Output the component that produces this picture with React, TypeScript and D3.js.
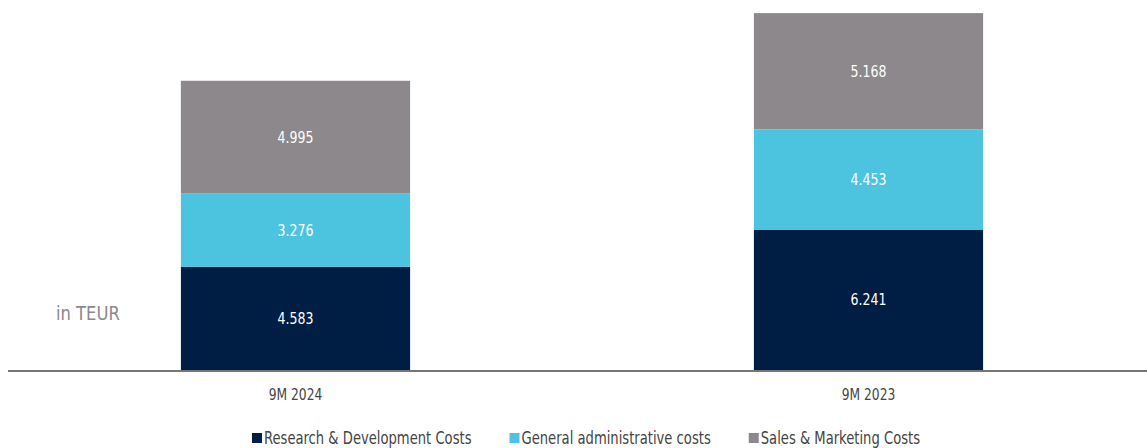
import React, { useEffect, useRef } from "react";
import * as d3 from "d3";

const categories = ["9M 2024", "9M 2023"];
const seriesNames = ["Research & Development Costs", "General administrative costs", "Sales & Marketing Costs"];
const rdCosts = [4583, 6241];
const gaCosts = [3276, 4453];
const smCosts = [4995, 5168];
const colors = ["#001e44", "#4dc4df", "#8d888b"];
const unitLabel = "in TEUR";

const W = 1147;
const H = 448;
const FONT = "'DejaVu Sans Condensed', 'Liberation Sans Narrow', sans-serif";
const SX = 0.86;

function fmt(v: number) {
  return d3.format(",")(v).replace(",", ".");
}

export default function App() {
  const ref = useRef<SVGSVGElement>(null);
  useEffect(() => {
    const svg = d3.select(ref.current);
    svg.selectAll("*").remove();
    const x = d3.scaleBand<string>().domain(categories).range([9, 1155]).paddingInner(0.6).paddingOuter(0.3);
    const y = d3.scaleLinear().domain([0, 16000]).range([370, 10]);
    const rows = categories.map((c, i) => ({ cat: c, rd: rdCosts[i], ga: gaCosts[i], sm: smCosts[i] }));
    const stack = d3.stack<any>().keys(["rd", "ga", "sm"]);
    const series = stack(rows);
    series.forEach((s, si) => {
      const g = svg.append("g");
      g.selectAll("rect").data(s).enter().append("rect")
        .attr("x", (d: any) => x(d.data.cat)!)
        .attr("width", x.bandwidth())
        .attr("y", (d: any) => y(d[1]))
        .attr("height", (d: any) => y(d[0]) - y(d[1]))
        .attr("fill", colors[si]);
      g.selectAll("text").data(s).enter().append("text")
        .attr("transform", (d: any) => `translate(${x(d.data.cat)! + x.bandwidth() / 2},${(y(d[0]) + y(d[1])) / 2}) scale(0.87,1)`)
        .attr("dy", "0.35em")
        .attr("text-anchor", "middle")
        .attr("fill", "#ffffff")
        .attr("font-family", FONT)
        .attr("font-size", 16)
        .text((d: any) => fmt(d[1] - d[0]));
    });
    // axis line
    svg.append("line").attr("x1", 8).attr("x2", W).attr("y1", y(0) + 1).attr("y2", y(0) + 1)
      .attr("stroke", "#767676").attr("stroke-width", 2);
    // category labels
    svg.selectAll("text.cat").data(categories).enter().append("text")
      .attr("class", "cat")
      .attr("transform", (d) => `translate(${x(d)! + x.bandwidth() / 2},395) scale(0.91,1)`)
      .attr("dy", "0.35em")
      .attr("text-anchor", "middle")
      .attr("fill", "#444")
      .attr("font-family", FONT)
      .attr("font-size", 15)
      .text((d) => d);
    svg.append("text").attr("transform", "translate(56,313) scale(0.91,1)").attr("dy", "0.35em")
      .attr("fill", "#8a8a8a").attr("font-family", FONT).attr("font-size", 20).text(unitLabel);
    // legend
    const lg = svg.append("g");
    let cx = 0;
    const gap = 38;
    seriesNames.forEach((n, i) => {
      const it = lg.append("g").attr("transform", `translate(${cx},0)`);
      it.append("rect").attr("x", 0).attr("y", -5).attr("width", 10).attr("height", 10).attr("fill", colors[i]);
      const t = it.append("text").attr("transform", `translate(12,0) scale(${SX},1)`).attr("dy", "0.35em")
        .attr("fill", "#444").attr("font-family", FONT).attr("font-size", 17).text(n);
      const w = (t.node() as SVGTextElement).getComputedTextLength() * SX;
      cx += 12 + w + gap;
    });
    const total = cx - gap;
    lg.attr("transform", `translate(${586 - total / 2},438)`);
  }, []);
  return <svg ref={ref} width={W} height={H} style={{ display: "block", position: "absolute", left: 0, top: 0 }} />;
}
